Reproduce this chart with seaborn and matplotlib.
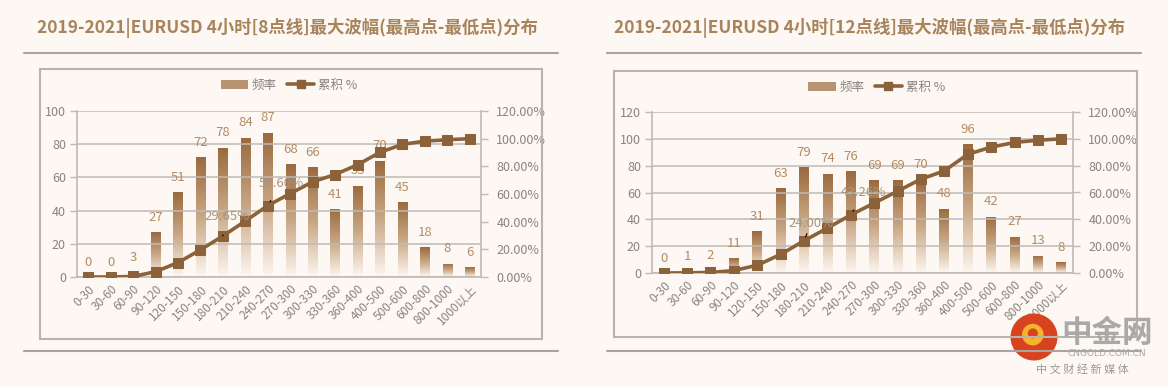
import numpy as np
import matplotlib
matplotlib.use("Agg")
import matplotlib.pyplot as plt
import seaborn as sns
from matplotlib.colors import LinearSegmentedColormap
from matplotlib.patches import Rectangle, Patch, Circle
from matplotlib.lines import Line2D
from matplotlib.ticker import FixedLocator, FuncFormatter

sns.set_style("white")
plt.rcParams['font.family'] = ['Noto Sans CJK SC', 'DejaVu Sans']

# 区间
categories = ['0-30', '30-60', '60-90', '90-120', '120-150', '150-180', '180-210',
              '210-240', '240-270', '270-300', '300-330', '330-360', '360-400',
              '400-500', '500-600', '600-800', '800-1000', '1000以上']

# 8点线
freq_8 = [0, 0, 3, 27, 51, 72, 78, 84, 87, 68, 66, 41, 55, 70, 45, 18, 8, 6]
cum_8 = [0.0, 0.0, 0.385, 3.851, 10.398, 19.641, 29.653, 40.436, 51.605,
         60.334, 68.806, 74.069, 81.130, 90.116, 95.892, 98.203, 99.230, 100.0]

# 12点线
freq_12 = [0, 1, 2, 11, 31, 63, 79, 74, 76, 69, 69, 70, 48, 96, 42, 27, 13, 8]
cum_12 = [0.0, 0.128, 0.385, 1.797, 5.777, 13.864, 24.005, 33.504, 43.261,
          52.118, 60.976, 69.961, 76.123, 88.447, 93.838, 97.304, 98.973, 100.0]

title_8 = '2019-2021|EURUSD 4小时[8点线]最大波幅(最高点-最低点)分布'
title_12 = '2019-2021|EURUSD 4小时[12点线]最大波幅(最高点-最低点)分布'

BG = '#fdf8f3'
BAR_TOP = '#9a6a3e'
LINE_C = '#8b6239'
LABEL_C = '#b38d66'
TICK_C = '#888480'
GRID_C = '#bfbab4'
TITLE_C = '#a8845c'

cmap = LinearSegmentedColormap.from_list('bar', ['#fdf7f0', '#c9a785', BAR_TOP])


def panel(ax, freq, cum, ymax, ann_idx, ann_off, leg_x):
    n = len(categories)
    ax.set_facecolor('none')
    sns.barplot(x=categories, y=freq, ax=ax, width=0.42, color=BAR_TOP, saturation=1)
    grad = np.linspace(0, 1, 256).reshape(-1, 1)
    for p in list(ax.patches):
        h = p.get_height()
        if h <= 0:
            continue
        x0 = p.get_x()
        im = ax.imshow(grad, cmap=cmap, origin='lower', aspect='auto',
                       extent=[x0, x0 + p.get_width(), 0, h], zorder=2)
        im.set_clip_path(p)
        p.set_alpha(0)
    for i, v in enumerate(freq):
        ax.annotate(str(v), (i, v), xytext=(0, 6), textcoords='offset points',
                    ha='center', va='bottom', color=LABEL_C, fontsize=9.5, zorder=6)

    ax.set_xlim(-0.5, n - 0.5)
    ax.set_ylim(0, ymax)
    ax.yaxis.set_major_locator(FixedLocator(np.arange(0, ymax + 1, 20)))
    ax.grid(axis='y', color=GRID_C, lw=1.3, alpha=0.85)
    ax.set_axisbelow(False)
    ax.xaxis.set_minor_locator(FixedLocator(np.arange(-0.5, n, 1)))
    ax.tick_params(axis='x', which='major', length=0, pad=4)
    ax.tick_params(axis='x', which='minor', length=4, color=GRID_C, width=1)
    ax.tick_params(axis='y', length=5, color=GRID_C, width=1, labelsize=9,
                   labelcolor=TICK_C, pad=3)
    ax.set_xticks(range(n))
    ax.set_xticklabels(categories, rotation=45, ha='right', rotation_mode='anchor',
                       fontsize=8.5, color=TICK_C)
    for s in ['top', 'right']:
        ax.spines[s].set_visible(False)
    for s in ['left', 'bottom']:
        ax.spines[s].set_color(GRID_C)
        ax.spines[s].set_linewidth(1.2)

    ax2 = ax.twinx()
    sns.lineplot(x=np.arange(n), y=np.array(cum) / 100, ax=ax2, color=LINE_C, lw=2.6,
                 marker='s', markersize=6.5, markeredgecolor=LINE_C, zorder=5)
    ax2.set_ylim(0, 1.2)
    ax2.set_xlim(-0.5, n - 0.5)
    ax2.yaxis.set_major_locator(FixedLocator(np.arange(0, 1.21, 0.2)))
    ax2.yaxis.set_major_formatter(FuncFormatter(lambda v, p: f'{v * 100:.2f}%'))
    ax2.tick_params(axis='y', length=5, color=GRID_C, width=1, labelsize=9,
                    labelcolor=TICK_C, pad=6)
    ax2.set_ylabel('')
    for s in ['top', 'left', 'bottom']:
        ax2.spines[s].set_visible(False)
    ax2.spines['right'].set_color(GRID_C)
    ax2.spines['right'].set_linewidth(1.2)

    for idx, off in zip(ann_idx, ann_off):
        ax2.annotate(f'{cum[idx]:.2f}%', (idx, cum[idx] / 100), xytext=off,
                     textcoords='offset pixels', ha='center', va='center',
                     color='#a89580', fontsize=9.5, zorder=7,
                     arrowprops=dict(arrowstyle='-', color='black', lw=0.8,
                                     shrinkA=6, shrinkB=3))

    handles = [Patch(facecolor='#b89370', edgecolor='none'),
               Line2D([0], [0], color=LINE_C, lw=2.6, marker='s', markersize=6)]
    leg = ax.legend(handles, ['频率', '累积 %'], loc='center', ncol=2,
                    bbox_to_anchor=(leg_x, 1.155), frameon=False, fontsize=9,
                    handlelength=2.2, handletextpad=0.3, columnspacing=0.8)
    for t in leg.get_texts():
        t.set_color(TICK_C)
    return ax2


fig = plt.figure(figsize=(11.68, 3.87), dpi=100, facecolor=BG)
H = 387.0
W = 1168.0


def fx(px):
    return px / W


def fy(py):
    return 1 - py / H


# 边框与分隔线
for (x0, y0, x1, y1) in [(40, 69, 542, 339), (614, 71, 1137, 337)]:
    fig.patches.append(Rectangle((fx(x0), fy(y1)), fx(x1 - x0), (y1 - y0) / H,
                                 transform=fig.transFigure, fill=False,
                                 edgecolor='#b8b3ad', lw=1.5, zorder=0))
for (x0, x1) in [(24, 558), (607, 1141)]:
    for yy in [53, 351]:
        fig.add_artist(Line2D([fx(x0), fx(x1)], [fy(yy), fy(yy)],
                              transform=fig.transFigure, color='#aaa49d', lw=1.5))

fig.text(fx(287), fy(28), title_8, ha='center', va='center', fontsize=12.5,
         fontweight='bold', color=TITLE_C)
fig.text(fx(870), fy(28), title_12, ha='center', va='center', fontsize=12.5,
         fontweight='bold', color=TITLE_C)

ax_l = fig.add_axes([fx(77), fy(277), fx(481 - 77), (277 - 111) / H])
panel(ax_l, freq_8, cum_8, 100, [6, 8], [(4, 19), (13, 22)], 0.525)

ax_r = fig.add_axes([fx(652), fy(273), fx(1073 - 652), (273 - 112) / H])
panel(ax_r, freq_12, cum_12, 120, [6, 8], [(7, 17), (13, 22)], 0.534)

# 水印
logo = fig.add_axes([fx(1010), fy(361), fx(48), 48 / H])
logo.set_xlim(-1, 1)
logo.set_ylim(-1, 1)
logo.set_aspect('equal')
logo.axis('off')
logo.add_patch(Circle((0, 0), 0.95, color='#d8431f'))
logo.add_patch(Circle((-0.05, 0.1), 0.42, color='#f6b32b'))
logo.add_patch(Circle((-0.05, 0.15), 0.18, color='#d8431f'))
fig.text(fx(1107), fy(333), '中金网', ha='center', va='center', fontsize=22,
         fontweight='bold', color='#a9a9a9')
fig.text(fx(1107), fy(354), 'CNGOLD.COM.CN', ha='center', va='center', fontsize=6.5,
         color='#a9a9a9', family='DejaVu Sans')
fig.text(fx(1082), fy(369), '中 文 财 经 新 媒 体', ha='center', va='center', fontsize=8,
         color='#9a9a9a')

fig.savefig('out.png', dpi=100, facecolor=BG)
